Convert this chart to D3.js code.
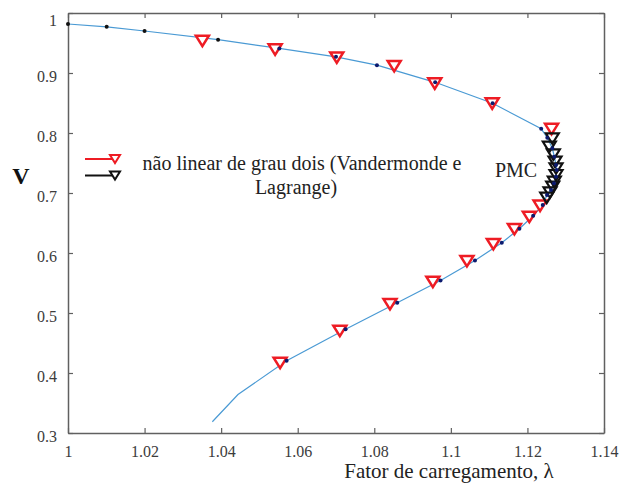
<!DOCTYPE html>
<html>
<head>
<meta charset="utf-8">
<script src="https://cdn.jsdelivr.net/npm/d3@7"></script>
<style>
  body { margin: 0; background: #fff; }
  svg text { font-family: "Liberation Serif", "Times New Roman", serif; }
</style>
</head>
<body>
<div id="chart"></div>
<script>
// curva PV - fator de carregamento x tensao

// pontos da curva (pontos azuis escuros)
var curvaLambda = [1.0, 1.0101, 1.0200, 1.0392, 1.0552, 1.0700, 1.0807, 1.0959, 1.1109, 1.1236,
                   1.12519, 1.12650, 1.12702, 1.12747, 1.12765, 1.12747, 1.12694, 1.12616, 1.12511,
                   1.1240, 1.1215, 1.1179, 1.1133, 1.1063, 1.0973, 1.0860, 1.0725, 1.0571]
var curvaV = [0.9817, 0.977, 0.970, 0.9555, 0.941, 0.927, 0.913, 0.8845, 0.8495, 0.807,
              0.7922, 0.7745, 0.7605, 0.7467, 0.7383, 0.7272, 0.7162, 0.705, 0.6967,
              0.680, 0.662, 0.6405, 0.617, 0.5875, 0.5542, 0.517, 0.473, 0.4205]

// final da curva (sem pontos)
var caudaLambda = [1.0444, 1.0377]
var caudaV = [0.3642, 0.3188]

// triangulos vermelhos - nao linear de grau dois
var vermLambda = [1.0351, 1.0541, 1.0702, 1.0852, 1.0958, 1.1108, 1.1263,
                  1.1233, 1.1205, 1.1166, 1.1111, 1.1042, 1.0953, 1.0841, 1.0710, 1.0554]
var vermV = [0.9538, 0.9395, 0.926, 0.9117, 0.8828, 0.8495, 0.807,
             0.679, 0.6605, 0.640, 0.615, 0.5867, 0.5522, 0.515, 0.4705, 0.4172]

// triangulos pretos - Vandermonde e Lagrange (perto do PMC)
var pretoLambda = [1.12650, 1.12572, 1.12677, 1.12720, 1.12747, 1.12747, 1.12702, 1.12660, 1.12590, 1.12504]
var pretoV = [0.7912, 0.7772, 0.7645, 0.7522, 0.7412, 0.730, 0.7188, 0.7105, 0.7012, 0.6922]

var xTicks = [1, 1.02, 1.04, 1.06, 1.08, 1.1, 1.12, 1.14]
var yTicks = [0.3, 0.4, 0.5, 0.6, 0.7, 0.8, 0.9, 1]

var width = 626,
    height = 484,
    margemEsq = 68, margemDir = 604, margemSup = 13, margemInf = 433

var x = d3.scaleLinear().domain([1, 1.14]).range([margemEsq, margemDir])
var y = d3.scaleLinear().domain([0.3, 1]).range([margemInf, margemSup])

var fmt = function(d){ return String(+d.toFixed(2)) }

var svg = d3.select('#chart').append('svg')
    .attr('width', width)
    .attr('height', height)

// eixos (ticks para dentro)
svg.append('g')
   .attr('transform', 'translate(0,' + margemInf + ')')
   .call(d3.axisBottom(x).tickValues(xTicks).tickSize(-5).tickSizeOuter(0).tickPadding(13).tickFormat(fmt))
   .classed('eixo', true)

svg.append('g')
   .attr('transform', 'translate(0,' + margemSup + ')')
   .call(d3.axisTop(x).tickValues(xTicks).tickSize(-5).tickSizeOuter(0).tickFormat(''))
   .classed('eixo', true)

var eixoY = svg.append('g')
   .attr('transform', 'translate(' + margemEsq + ',0)')
   .call(d3.axisLeft(y).tickValues(yTicks).tickSize(-5).tickSizeOuter(0).tickPadding(11).tickFormat(fmt))
   .classed('eixo', true)

svg.append('g')
   .attr('transform', 'translate(' + margemDir + ',0)')
   .call(d3.axisRight(y).tickValues(yTicks).tickSize(-5).tickSizeOuter(0).tickFormat(''))
   .classed('eixo', true)

svg.selectAll('.eixo path').attr('stroke', '#606060').attr('stroke-width', 1.5)
svg.selectAll('.eixo line').attr('stroke', '#606060').attr('stroke-width', 1.2)
svg.selectAll('.eixo text')
   .attr('fill', '#3c3c3c')
   .style('font-size', '16px')
   .style('font-family', '"Liberation Serif", serif')
eixoY.selectAll('text').attr('dy', function(d){ return d === 1 ? '0.75em' : '0.52em' })

// curva azul
var linhaDados = curvaLambda.map(function(l, i){ return [l, curvaV[i]] })
    .concat(caudaLambda.map(function(l, i){ return [l, caudaV[i]] }))

svg.append('path')
   .datum(linhaDados)
   .attr('d', d3.line().x(function(d){ return x(d[0]) }).y(function(d){ return y(d[1]) }))
   .attr('fill', 'none')
   .attr('stroke', '#4a9ad4')
   .attr('stroke-width', 1.2)

var tri = 'M-6.5,-5L6.5,-5L0,5.5Z'

svg.selectAll('path.verm').data(vermLambda)
   .enter().append('path')
     .classed('verm', true)
     .attr('d', tri)
     .attr('transform', function(d, i){ return 'translate(' + x(d) + ',' + y(vermV[i]) + ')' })
     .attr('fill', '#fff')
     .attr('stroke', '#ee1c24')
     .attr('stroke-width', 2.5)

svg.selectAll('path.preto').data(pretoLambda)
   .enter().append('path')
     .classed('preto', true)
     .attr('d', tri)
     .attr('transform', function(d, i){ return 'translate(' + x(d) + ',' + y(pretoV[i]) + ')' })
     .attr('fill', 'none')
     .attr('stroke', '#111')
     .attr('stroke-width', 2.2)

svg.selectAll('circle').data(curvaLambda)
   .enter().append('circle')
     .attr('cx', function(d){ return x(d) })
     .attr('cy', function(d, i){ return y(curvaV[i]) })
     .attr('r', 2)
     .attr('fill', function(d, i){ return i < 4 ? '#111' : '#0c1a6e' })

// legenda
var legenda = [{cor: '#ee1c24', y: 159}, {cor: '#111', y: 175.5}]
svg.selectAll('g.leg').data(legenda)
   .enter().append('g')
     .classed('leg', true)
     .each(function(d){
       var g = d3.select(this)
       g.append('line').attr('x1', 85).attr('x2', 112).attr('y1', d.y).attr('y2', d.y)
        .attr('stroke', d.cor).attr('stroke-width', 2)
       g.append('path').attr('d', 'M-5,-4L5,-4L0,4Z')
        .attr('transform', 'translate(115,' + d.y + ')')
        .attr('fill', '#fff').attr('stroke', d.cor).attr('stroke-width', 2)
     })

svg.append('text')
   .attr('x', 302).attr('y', 170)
   .attr('text-anchor', 'middle')
   .style('font-size', '20px')
   .attr('fill', '#222')
   .text('não linear de grau dois (Vandermonde e')

svg.append('text')
   .attr('x', 296).attr('y', 194)
   .attr('text-anchor', 'middle')
   .style('font-size', '20px')
   .attr('fill', '#222')
   .text('Lagrange)')

svg.append('text')
   .attr('x', 516).attr('y', 177)
   .attr('text-anchor', 'middle')
   .style('font-size', '20px')
   .attr('fill', '#222')
   .text('PMC')

svg.append('text')
   .attr('x', 21).attr('y', 184)
   .attr('text-anchor', 'middle')
   .style('font-size', '24px')
   .style('font-weight', 'bold')
   .attr('fill', '#111')
   .text('V')

svg.append('text')
   .attr('x', 449).attr('y', 478)
   .attr('text-anchor', 'middle')
   .style('font-size', '21px')
   .attr('fill', '#222')
   .text('Fator de carregamento, λ')
</script>
</body>
</html>
